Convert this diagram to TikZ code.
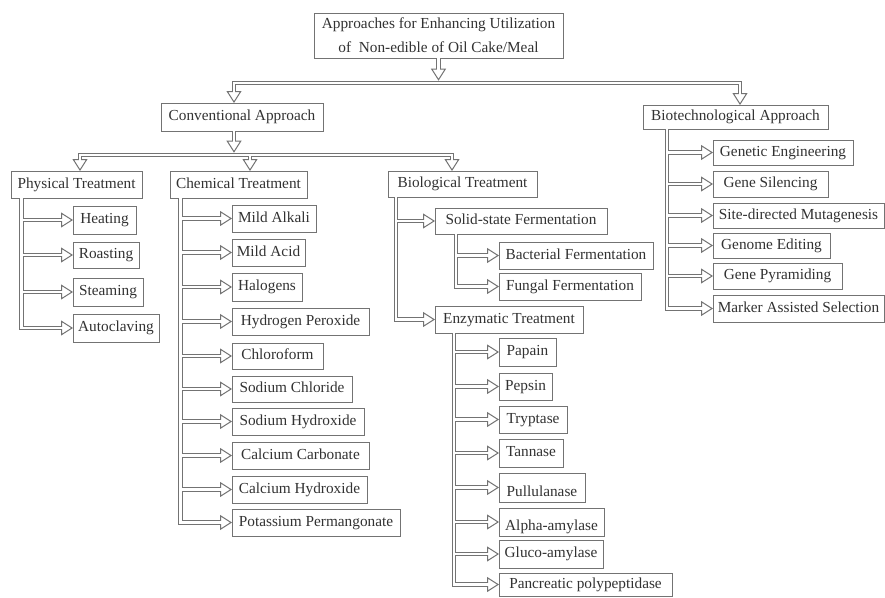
\documentclass[tikz,border=0pt]{standalone}
\usepackage{fontspec}
\setmainfont{Liberation Serif}
\usetikzlibrary{arrows.meta}
\definecolor{lc}{RGB}{115,115,115}
\definecolor{tc}{RGB}{50,50,50}
\tikzset{
 boxbase/.style={draw=lc, line width=1pt, inner sep=0pt, outer sep=0pt, text=tc, font=\fontsize{15.3}{24}\selectfont, align=center},
 box/.style={boxbase, text height=10.5pt, text depth=3pt},
 lowtext/.style={text height=20pt},
 passA/.style={draw=lc, line width=4.6pt, -{Triangle[open, length=12pt, width=15pt, line width=1pt]}},
 passB/.style={draw=white, line width=2.6pt, shorten >=10pt},
}
\newcommand\bx[7][]{\node[box, #1, minimum width={(#5-#3)*1pt}, minimum height={(#6-#4)*1pt}] (#2) at ({(#3+#5)/2},{(#4+#6)/2}) {#7};}
\newcommand\allconns{
 \draw[cs] (top.south) -- ([yshift=2.3pt]j1);
 \draw[cs] (j1) -| ([xshift=-8pt]conv.north);
 \draw[cs] (j1) -| ([xshift=4.5pt]biot.north);
 \draw[cs] ([xshift=-8pt]conv.south) -- ([yshift=2.3pt]j2);
 \draw[cs] (j2) -| ([xshift=3.5pt]phys.north);
 \draw[cs] (j2) -| ([xshift=11.5pt]chem.north);
 \draw[cs] (j2) -| ([xshift=-10.5pt]biol.north);
 \foreach \c in {heat,roast,steam,auto}{\draw[cs] ([xshift=10.5pt]phys.south west) |- (\c.west);}
 \foreach \c in {alk,acid,halo,hyd,chlf,nacl,naoh,caco,caoh,kmno}{\draw[cs] ([xshift=10.5pt]chem.south west) |- (\c.west);}
 \foreach \c in {ssf,enz}{\draw[cs] ([xshift=8pt]biol.south west) |- (\c.west);}
 \foreach \c in {bact,fung}{\draw[cs] ([xshift=21pt]ssf.south west) |- (\c.west);}
 \foreach \c in {pap,pep,tryp,tann,pull,alph,gluc,panc}{\draw[cs] ([xshift=19pt]enz.south west) |- (\c.west);}
 \foreach \c in {gen,sil,site,edit,pyr,mark}{\draw[cs] ([xshift=24pt]biot.south west) |- (\c.west);}
}
\begin{document}
\begin{tikzpicture}[x=1pt,y=-1pt]
\fill[white] (0,0) rectangle (885,597);
\useasboundingbox (0,0) rectangle (885,597);
\node[boxbase, minimum width=249pt, minimum height=45pt] (top) at (438.5,35.5) {Approaches for Enhancing Utilization\\of\ \ Non-edible of Oil Cake/Meal};
\bx{conv}{161}{103}{323}{131}{Conventional Approach}
\bx{biot}{643}{105}{828}{129}{Biotechnological Approach}
\bx{phys}{11}{171}{142}{198}{Physical Treatment}
\bx{chem}{170}{171}{307}{198}{Chemical Treatment}
\bx{biol}{388}{171}{537}{197}{Biological Treatment}
\bx{heat}{73}{206}{136}{234}{Heating}
\bx{roast}{73}{242}{139}{268}{Roasting}
\bx{steam}{73}{278}{143}{306}{Steaming}
\bx{auto}{73}{314}{159}{342}{Autoclaving}
\bx{alk}{232}{205}{316}{232}{Mild Alkali}
\bx{acid}{232}{239}{305}{266}{Mild Acid}
\bx{halo}{232}{273}{302}{301}{Halogens}
\bx{hyd}{232}{308}{369}{335}{Hydrogen Peroxide}
\bx{chlf}{232}{343}{323}{369}{Chloroform}
\bx{nacl}{232}{376}{352}{402}{Sodium Chloride}
\bx{naoh}{232}{408}{364}{435}{Sodium Hydroxide}
\bx{caco}{232}{442}{369}{469}{Calcium Carbonate}
\bx{caoh}{232}{476}{367}{503}{Calcium Hydroxide}
\bx{kmno}{232}{509}{400}{536}{Potassium Permangonate}
\bx{ssf}{435}{208}{607}{234}{Solid-state Fermentation}
\bx{bact}{499}{242}{653}{269}{Bacterial Fermentation}
\bx{fung}{499}{273}{641}{300}{Fungal Fermentation}
\bx{enz}{435}{306}{583}{333}{Enzymatic Treatment}
\bx{pap}{499}{338}{556}{366}{Papain}
\bx{pep}{499}{373}{552}{400}{Pepsin}
\bx{tryp}{499}{406}{567}{433}{Tryptase}
\bx{tann}{499}{439}{563}{467}{Tannase}
\bx[lowtext]{pull}{499}{473}{585}{502}{Pullulanase}
\bx[lowtext]{alph}{499}{508}{604}{536}{Alpha-amylase}
\bx{gluc}{499}{540}{603}{568}{Gluco-amylase}
\bx{panc}{499}{573}{672}{596}{Pancreatic polypeptidase}
\bx{gen}{713}{140}{853}{165}{Genetic Engineering}
\bx{sil}{713}{171}{828}{197}{Gene Silencing}
\bx{site}{713}{203}{884}{228}{Site-directed Mutagenesis}
\bx{edit}{713}{233}{830}{258}{Genome Editing}
\bx{pyr}{713}{263}{842}{289}{Gene Pyramiding}
\bx{mark}{713}{295}{884}{322}{Marker Assisted Selection}
\coordinate (j1) at (438.5,83);
\coordinate (j2) at (234,155);
\begin{scope}[cs/.style=passA]\allconns\end{scope}
\begin{scope}[cs/.style=passB]\allconns\end{scope}
\end{tikzpicture}
\end{document}
